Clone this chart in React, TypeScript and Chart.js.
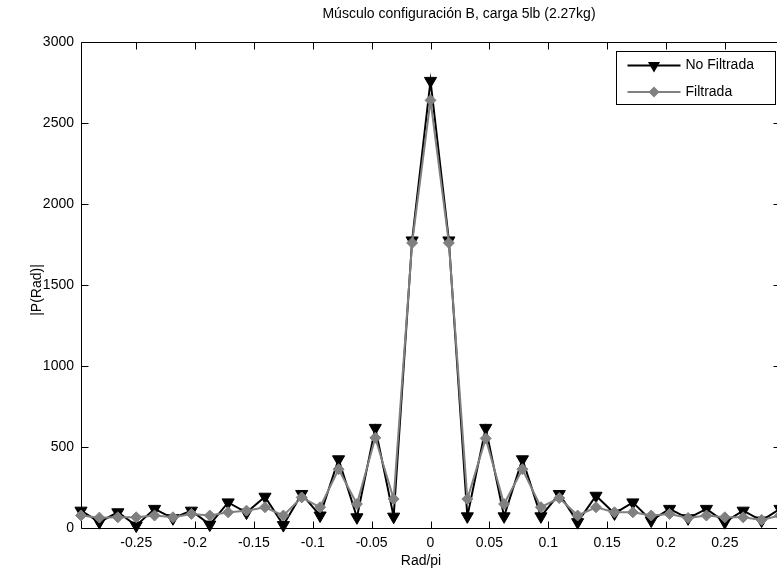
import { useEffect, useRef } from "react";
import { Chart, registerables } from "chart.js";

Chart.register(...registerables);

// Normalized frequency (Rad/pi) of each spectral bin
const FREQ = [
  -0.2969, -0.2813, -0.2656, -0.25, -0.2344, -0.2188, -0.2031, -0.1875, -0.1719, -0.1563,
  -0.1406, -0.125, -0.1094, -0.0938, -0.0781, -0.0625, -0.0469, -0.0313, -0.0156, 0,
  0.0156, 0.0313, 0.0469, 0.0625, 0.0781, 0.0938, 0.1094, 0.125, 0.1406, 0.1563,
  0.1719, 0.1875, 0.2031, 0.2188, 0.2344, 0.25, 0.2656, 0.2813, 0.2969,
];

// |P(Rad)| of the raw signal
const NO_FILTRADA = [
  107, 36, 97, 15, 118, 60, 107, 21, 158, 95,
  193, 18, 210, 77, 424, 66, 618, 70, 1775, 2760,
  1775, 72, 618, 72, 424, 72, 210, 36, 199, 90,
  158, 46, 118, 60, 118, 36, 107, 46, 118,
];

// |P(Rad)| of the filtered signal
const FILTRADA = [
  77, 64, 66, 66, 77, 66, 87, 77, 97, 107,
  128, 77, 189, 128, 363, 148, 557, 179, 1760, 2640,
  1760, 179, 553, 148, 363, 128, 185, 77, 128, 97,
  97, 77, 87, 62, 77, 66, 66, 50, 77,
];

const X_TICKS = [-0.25, -0.2, -0.15, -0.1, -0.05, 0, 0.05, 0.1, 0.15, 0.2, 0.25];
const Y_TICKS = [0, 500, 1000, 1500, 2000, 2500, 3000];
const X_MIN = -0.2969;
const X_MAX = 0.2969;

const TITLE = "Músculo configuración B, carga 5lb (2.27kg)";
const X_LABEL = "Rad/pi";
const Y_LABEL = "|P(Rad)|";
const SERIES_NAMES = ["No Filtrada", "Filtrada"];

const FAMILY = '"Liberation Sans", Arial, sans-serif';
const FONT_SIZE = 14;
const FONT = `${FONT_SIZE}px ${FAMILY}`;
const BLACK = "#000000";
const GRAY = "#808080";

const W = 790;
const H = 571;

// Axes box with inward tick marks on all four sides, plus titles and legend
const framePlugin = {
  id: "frame",
  beforeDatasetsDraw(chart: any) {
    const { ctx, chartArea: a, scales } = chart;
    const L = Math.round(a.left) + 0.5;
    const R = Math.round(a.right) + 0.5;
    const T = Math.round(a.top) + 0.5;
    const B = Math.round(a.bottom) + 0.5;
    const tick = 7;
    ctx.save();
    ctx.strokeStyle = "#000";
    ctx.lineWidth = 1;
    ctx.beginPath();
    ctx.rect(L, T, R - L, B - T);
    for (const v of X_TICKS) {
      const px = Math.round(scales.x.getPixelForValue(v)) + 0.5;
      ctx.moveTo(px, B);
      ctx.lineTo(px, B - tick);
      ctx.moveTo(px, T);
      ctx.lineTo(px, T + tick);
    }
    for (const v of Y_TICKS) {
      const py = Math.round(scales.y.getPixelForValue(v)) + 0.5;
      ctx.moveTo(L, py);
      ctx.lineTo(L + tick, py);
      ctx.moveTo(R, py);
      ctx.lineTo(R - tick, py);
    }
    ctx.stroke();
    ctx.restore();
  },
  afterDraw(chart: any) {
    const { ctx, chartArea: a } = chart;
    ctx.save();
    ctx.fillStyle = "#000";
    ctx.font = FONT;
    ctx.textAlign = "center";
    ctx.textBaseline = "middle";
    ctx.fillText(TITLE, 459, 14);
    ctx.fillText(X_LABEL, 421, 561);
    ctx.save();
    ctx.translate(37, 290);
    ctx.rotate(-Math.PI / 2);
    ctx.fillText(Y_LABEL, 0, 0);
    ctx.restore();

    // legend
    const bx = Math.round(a.right) - 164 + 0.5;
    const by = Math.round(a.top) + 9 + 0.5;
    const bw = 159;
    const bh = 53;
    ctx.fillStyle = "#fff";
    ctx.fillRect(bx, by, bw, bh);
    ctx.strokeStyle = "#000";
    ctx.lineWidth = 1;
    ctx.strokeRect(bx, by, bw, bh);
    const rows = [by + 14, by + 40.5];
    const colors = [BLACK, GRAY];
    rows.forEach((ry, i) => {
      const x0 = bx + 11;
      const x1 = bx + 64;
      const xm = (x0 + x1) / 2;
      ctx.strokeStyle = colors[i];
      ctx.fillStyle = colors[i];
      ctx.lineWidth = 2;
      ctx.beginPath();
      ctx.moveTo(x0, ry);
      ctx.lineTo(x1, ry);
      ctx.stroke();
      ctx.beginPath();
      if (i === 0) {
        const r = 7;
        ctx.moveTo(xm - r * 0.866, ry - r / 2);
        ctx.lineTo(xm + r * 0.866, ry - r / 2);
        ctx.lineTo(xm, ry + r);
      } else {
        const r = 5.5;
        ctx.moveTo(xm - r, ry);
        ctx.lineTo(xm, ry - r);
        ctx.lineTo(xm + r, ry);
        ctx.lineTo(xm, ry + r);
      }
      ctx.closePath();
      ctx.fill();
      ctx.fillStyle = "#000";
      ctx.textAlign = "left";
      ctx.fillText(SERIES_NAMES[i], bx + 69, ry);
    });
    ctx.restore();
  },
};

export default function App() {
  const ref = useRef<HTMLCanvasElement | null>(null);

  useEffect(() => {
    if (!ref.current) return;
    const chart = new Chart(ref.current, {
      type: "line",
      data: {
        datasets: [
          {
            label: SERIES_NAMES[0],
            data: FREQ.map((x, i) => ({ x, y: NO_FILTRADA[i] })),
            borderColor: BLACK,
            backgroundColor: BLACK,
            borderWidth: 2,
            pointStyle: "triangle",
            rotation: 180,
            pointRadius: 7,
            pointBorderWidth: 1,
            pointBackgroundColor: BLACK,
            pointBorderColor: BLACK,
            tension: 0,
            clip: false as any,
            order: 2,
          },
          {
            label: SERIES_NAMES[1],
            data: FREQ.map((x, i) => ({ x, y: FILTRADA[i] })),
            borderColor: GRAY,
            backgroundColor: GRAY,
            borderWidth: 2,
            pointStyle: "rectRot",
            pointRadius: 5.5,
            pointBorderWidth: 1,
            pointBackgroundColor: GRAY,
            pointBorderColor: GRAY,
            tension: 0,
            clip: false as any,
            order: 1,
          },
        ],
      },
      options: {
        animation: false,
        responsive: false,
        devicePixelRatio: 1,
        layout: { padding: { left: 0, top: 42, right: W - 780, bottom: 0 } },
        plugins: {
          legend: { display: false },
          title: { display: false },
          tooltip: { enabled: false },
        },
        scales: {
          x: {
            type: "linear",
            min: X_MIN,
            max: X_MAX,
            afterBuildTicks: (s: any) => {
              s.ticks = X_TICKS.map((v) => ({ value: v }));
            },
            afterFit: (s: any) => {
              s.height = H - 528;
            },
            grid: { display: false, drawTicks: false },
            border: { display: false },
            ticks: {
              font: { family: FAMILY, size: FONT_SIZE },
              color: "#000",
              padding: 7,
              maxRotation: 0,
              autoSkip: false,
              callback: (v: any) => String(Number(Number(v).toFixed(2))),
            },
          },
          y: {
            type: "linear",
            min: 0,
            max: 3000,
            afterBuildTicks: (s: any) => {
              s.ticks = Y_TICKS.map((v) => ({ value: v }));
            },
            afterFit: (s: any) => {
              s.width = 81;
            },
            grid: { display: false, drawTicks: false },
            border: { display: false },
            ticks: {
              font: { family: FAMILY, size: FONT_SIZE },
              color: "#000",
              padding: 7,
              autoSkip: false,
              callback: (v: any) => String(v),
            },
          },
        },
      },
      plugins: [framePlugin],
    });
    return () => chart.destroy();
  }, []);

  return (
    <div
      style={{
        position: "fixed",
        left: 0,
        top: 0,
        width: W,
        height: H,
        background: "#fff",
        overflow: "hidden",
      }}
    >
      <canvas ref={ref} width={W} height={H} style={{ display: "block" }} />
    </div>
  );
}
